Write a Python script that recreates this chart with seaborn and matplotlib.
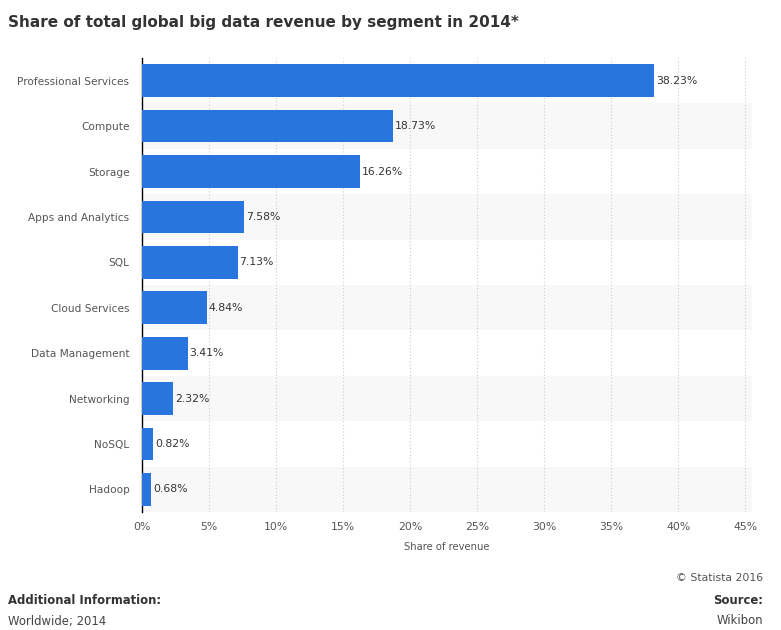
import matplotlib
matplotlib.use("Agg")
import matplotlib.pyplot as plt
import seaborn as sns
import pandas as pd

categories = ["Professional Services", "Compute", "Storage", "Apps and Analytics", "SQL",
              "Cloud Services", "Data Management", "Networking", "NoSQL", "Hadoop"]
values = [38.23, 18.73, 16.26, 7.58, 7.13, 4.84, 3.41, 2.32, 0.82, 0.68]
xticks = [0, 5, 10, 15, 20, 25, 30, 35, 40, 45]

df = pd.DataFrame({"segment": categories, "share": values})

sns.set_theme(style="white")
plt.rcParams['font.family'] = ['DejaVu Sans']

fig = plt.figure(figsize=(7.81, 6.3), dpi=100)
ax = fig.add_axes([0.1818, 0.187, 0.781, 0.721])

for i in range(len(categories)):
    if i % 2 == 1:
        ax.axhspan(i - 0.5, i + 0.5, color="#f8f8f8", zorder=0, lw=0)

sns.barplot(data=df, x="share", y="segment", orient="h", color="#2876dd",
            saturation=1, width=0.72, ax=ax, zorder=3, linewidth=0)

for i, v in enumerate(values):
    ax.text(v + 0.15, i, f"{v:.2f}%", va="center", ha="left", fontsize=7.8, color="#333333", zorder=4)

ax.set_xlim(0, 45.5)
ax.set_ylim(len(categories) - 0.5, -0.5)
ax.set_xticks(xticks)
ax.set_xticklabels([f"{t}%" for t in xticks])
ax.xaxis.grid(True, linestyle=(0, (1, 2)), color="#cccccc", lw=0.8, zorder=1)
ax.set_axisbelow(True)
for s in ["top", "right", "bottom"]:
    ax.spines[s].set_visible(False)
ax.spines["left"].set_color("#000000")
ax.spines["left"].set_linewidth(1.0)
ax.tick_params(axis="y", length=0, labelsize=7.6, colors="#555555", pad=9)
ax.tick_params(axis="x", length=0, labelsize=7.8, colors="#555555", pad=7)
ax.set_ylabel("")
ax.set_xlabel("Share of revenue", fontsize=7.2, color="#555555", labelpad=7)

fig.text(8 / 781, 1 - 22 / 630, "Share of total global big data revenue by segment in 2014*",
         fontsize=11, fontweight="bold", color="#333333", va="center", ha="left")
fig.text(763 / 781, 1 - 578 / 630, "© Statista 2016", fontsize=7.8, color="#555555", ha="right", va="center")
fig.text(8 / 781, 1 - 600 / 630, "Additional Information:", fontsize=8.4, fontweight="bold", color="#333333", ha="left", va="center")
fig.text(763 / 781, 1 - 600 / 630, "Source:", fontsize=8.4, fontweight="bold", color="#333333", ha="right", va="center")
fig.text(8 / 781, 1 - 621 / 630, "Worldwide; 2014", fontsize=8.4, color="#444444", ha="left", va="center")
fig.text(763 / 781, 1 - 621 / 630, "Wikibon", fontsize=8.4, color="#444444", ha="right", va="center")

fig.savefig("out.png", dpi=100, facecolor="white")
